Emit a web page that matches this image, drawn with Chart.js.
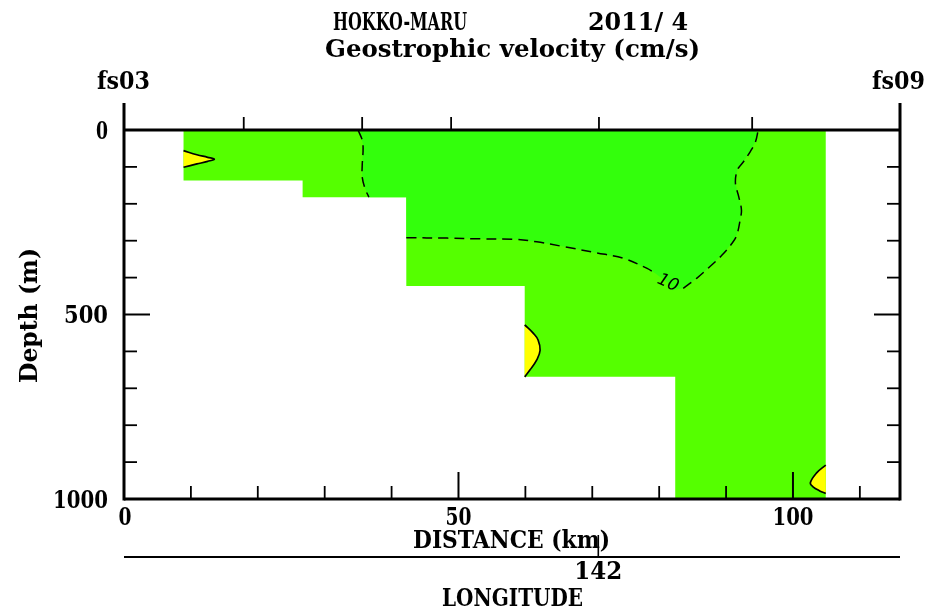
<!DOCTYPE html>
<html>
<head>
<meta charset="utf-8">
<script src="https://cdn.jsdelivr.net/npm/chart.js@4.4.1/dist/chart.umd.min.js"></script>
<style>
  html, body { margin: 0; padding: 0; background: #ffffff; }
  #wrap { width: 930px; height: 610px; }
</style>
</head>
<body>
<div id="wrap"><canvas id="c" width="930" height="610"></canvas></div>
<script>
// ---- Section geometry -------------------------------------------------
// CTD stations along the line, distance in km from fs03
const stationNames = ['fs03', 'fs04', 'fs05', 'fs06', 'fs07', 'fs08', 'fs09'];
const stationKm    = [0, 17.9, 35.6, 48.9, 71.0, 93.9, 116.0];

// Geostrophic velocity columns (between station pairs): edges in km, bottom depth in m
const columnEdgeKm  = [8.9, 26.7, 42.2, 59.9, 82.4, 104.9];
const columnBottomM = [137, 182, 423, 669, 1000];

// ---- Contours (cm/s) --------------------------------------------------
// 10 cm/s contour, western branch (surface down to the step)
const c10WestKm = [35.0, 35.7, 35.6, 35.6, 36.0, 36.6];
const c10WestM  = [0, 35, 100, 127, 157, 182];
// 10 cm/s contour, eastern branch (from the step edge back up to the surface)
const c10EastKm = [42.2, 48.3, 53.2, 58.2, 61.7, 65.7, 70.7, 74.7, 78.2, 79.4, 81.4, 82.0,
                   83.6, 85.6, 87.6, 89.4, 90.9, 91.6, 92.1, 92.3, 91.9, 91.4, 91.7, 92.6, 93.6, 94.4, 94.8];
const c10EastM  = [292, 293, 295, 296, 303, 316, 333, 348, 375, 388, 415, 434,
                   429, 402, 370, 339, 307, 285, 244, 217, 181, 144, 108, 86, 59, 32, 0];
// points of the eastern branch hidden under the contour label
const c10LabelSkip = [10, 11];
const c10Label = '10';
const c10LabelKm = 81.3;
const c10LabelM  = 415;

// 0 cm/s contours enclosing the small negative patches
const negWestKm = [8.9, 10.9, 12.5, 13.5, 12.5, 10.9, 8.9];
const negWestM  = [56, 67, 74, 79, 85, 92, 101];
const negMidKm  = [59.9, 61.2, 61.9, 62.2, 61.7, 60.7, 59.9];
const negMidM   = [528, 551, 569, 597, 623, 650, 669];
const negEastKm = [104.9, 103.5, 102.6, 103.0, 104.0, 104.9];
const negEastM  = [908, 930, 956, 967, 978, 985];

// ---- Axis ticks -------------------------------------------------------
const distanceLabels = [0, 50, 100];
const distanceMinor  = [10, 20, 30, 40, 60, 70, 80, 90, 110];
const depthLabels    = [0, 500, 1000];
const depthMinor     = [100, 200, 300, 400, 600, 700, 800, 900];
const lonTickLabels  = ['142'];
const lonTickKm      = [70.9];

// ---- Build datasets ---------------------------------------------------
function pts(xs, ys) { return xs.map((x, i) => ({ x: x, y: ys[i] })); }

const sectionPts = [{ x: columnEdgeKm[0], y: 0 }];
columnBottomM.forEach((d, i) => {
  sectionPts.push({ x: columnEdgeKm[i], y: d });
  sectionPts.push({ x: columnEdgeKm[i + 1], y: d });
});
sectionPts.push({ x: columnEdgeKm[columnEdgeKm.length - 1], y: 0 });

// region faster than 10 cm/s: west contour, step corner, east contour, closed along the surface
const fastPts = pts(c10WestKm, c10WestM)
  .concat([{ x: columnEdgeKm[2], y: columnBottomM[1] }])
  .concat(pts(c10EastKm, c10EastM));

const c10Line = pts(c10WestKm, c10WestM).concat([{ x: null, y: null }]);
pts(c10EastKm, c10EastM).forEach((p, i) => {
  if (c10LabelSkip.includes(i)) {
    if (i === c10LabelSkip[0]) c10Line.push({ x: null, y: null });
  } else {
    c10Line.push(p);
  }
});

const GREEN = '#55ff00';
const FAST_GREEN = '#33ff0c';
const YELLOW = '#ffff00';

function areaSet(data, color, order) {
  return { data: data, fill: 'shape', backgroundColor: color, borderWidth: 0,
           borderColor: 'rgba(0,0,0,0)', pointRadius: 0, tension: 0, order: order };
}
function patchSet(data) {
  return { data: data, fill: 'shape', backgroundColor: YELLOW, borderColor: '#000000',
           borderWidth: 1.7, pointRadius: 0, tension: 0.4, order: 5 };
}

// ---- Axes, ticks and texts drawn on the chart scales --------------------
const FONT = '"DejaVu Serif"';
const FS = 25;
function fitText(ctx, txt, x, y, w, size, align) {
  ctx.save();
  ctx.font = 'bold ' + size + 'px ' + FONT;
  const s = w / ctx.measureText(txt).width;
  const left = align === 'center' ? x - w / 2 : (align === 'right' ? x - w : x);
  ctx.textAlign = 'left';
  ctx.textBaseline = 'alphabetic';
  ctx.fillStyle = '#000000';
  ctx.translate(left, y);
  ctx.scale(s, 1);
  ctx.fillText(txt, 0, 0);
  ctx.restore();
}
function seg(ctx, x1, y1, x2, y2, w) {
  ctx.lineWidth = w;
  ctx.beginPath();
  ctx.moveTo(x1, y1);
  ctx.lineTo(x2, y2);
  ctx.stroke();
}

const sectionFrame = {
  id: 'sectionFrame',
  afterDatasetsDraw(chart) {
    const ctx = chart.ctx;
    const xs = chart.scales.x, ys = chart.scales.y;
    const a = chart.chartArea;
    ctx.save();
    ctx.strokeStyle = '#000000';
    ctx.lineCap = 'butt';

    // contour label
    ctx.save();
    ctx.translate(xs.getPixelForValue(c10LabelKm), ys.getPixelForValue(c10LabelM));
    ctx.rotate(24 * Math.PI / 180);
    ctx.font = 'italic 17px "DejaVu Sans"';
    ctx.textAlign = 'center';
    ctx.textBaseline = 'middle';
    ctx.fillStyle = '#000000';
    ctx.fillText(c10Label, 0, 0);
    ctx.restore();

    // frame
    seg(ctx, a.left, a.top, a.right, a.top, 3);
    seg(ctx, a.left, a.bottom, a.right, a.bottom, 3);
    seg(ctx, a.left, a.top - 27, a.left, a.bottom + 1.5, 3);
    seg(ctx, a.right, a.top - 27, a.right, a.bottom + 1.5, 3);

    // station ticks on top
    stationKm.slice(1, -1).forEach(k => {
      const px = xs.getPixelForValue(k);
      seg(ctx, px, a.top, px, a.top - 13, 1.8);
    });
    // distance ticks
    distanceMinor.forEach(k => {
      const px = xs.getPixelForValue(k);
      seg(ctx, px, a.bottom, px, a.bottom - 13, 1.8);
    });
    distanceLabels.forEach(k => {
      const px = xs.getPixelForValue(k);
      if (k > 0) seg(ctx, px, a.bottom, px, a.bottom - 27, 2);
    });
    // depth ticks on both sides
    depthMinor.forEach(d => {
      const py = ys.getPixelForValue(d);
      seg(ctx, a.left, py, a.left + 13, py, 1.8);
      seg(ctx, a.right, py, a.right - 13, py, 1.8);
    });
    depthLabels.forEach(d => {
      if (d === 0 || d === 1000) return;
      const py = ys.getPixelForValue(d);
      seg(ctx, a.left, py, a.left + 26, py, 2);
      seg(ctx, a.right, py, a.right - 26, py, 2);
    });

    // titles
    fitText(ctx, 'HOKKO-MARU', 333, 30, 134, FS, 'left');
    fitText(ctx, '2011/ 4', 588, 30, 100, FS, 'left');
    fitText(ctx, 'Geostrophic velocity (cm/s)', 325, 57, 375, FS, 'left');

    // station names at both ends
    fitText(ctx, stationNames[0], xs.getPixelForValue(stationKm[0]) - 27, 89, 53, FS, 'left');
    fitText(ctx, stationNames[stationNames.length - 1],
            xs.getPixelForValue(stationKm[stationKm.length - 1]) - 28, 89, 53, FS, 'left');

    // depth labels
    const depthW = { 0: 12, 500: 44, 1000: 55 };
    depthLabels.forEach(d => {
      fitText(ctx, String(d), a.left - 16, ys.getPixelForValue(d) + 8.5, depthW[d], FS, 'right');
    });
    // distance labels
    const distW = { 0: 13, 50: 26, 100: 41 };
    distanceLabels.forEach(k => {
      fitText(ctx, String(k), xs.getPixelForValue(k) + (k === 0 ? 1 : 0), a.bottom + 26, distW[k], FS, 'center');
    });
    fitText(ctx, 'DISTANCE (km)', 413, 548, 197, FS, 'left');

    // longitude axis
    const lonY = 557;
    seg(ctx, a.left, lonY, a.right, lonY, 2);
    lonTickKm.forEach((k, i) => {
      const px = xs.getPixelForValue(k);
      seg(ctx, px, lonY, px, lonY - 22, 1.6);
      fitText(ctx, lonTickLabels[i], px, 579, 48, FS, 'center');
    });
    fitText(ctx, 'LONGITUDE', 442, 606, 141, FS, 'left');

    // depth axis title
    ctx.save();
    ctx.translate(37, 383);
    ctx.rotate(-Math.PI / 2);
    fitText(ctx, 'Depth (m)', 0, 0, 135, FS, 'left');
    ctx.restore();

    ctx.restore();
  }
};

new Chart(document.getElementById('c'), {
  type: 'line',
  data: {
    datasets: [
      areaSet(sectionPts, GREEN, 10),
      areaSet(fastPts, FAST_GREEN, 9),
      patchSet(pts(negWestKm, negWestM)),
      patchSet(pts(negMidKm, negMidM)),
      patchSet(pts(negEastKm, negEastM)),
      { data: c10Line, fill: false, borderColor: '#000000', borderWidth: 1.5,
        borderDash: [10, 6], pointRadius: 0, tension: 0.35, spanGaps: false, order: 1 }
    ]
  },
  options: {
    responsive: false,
    animation: false,
    events: [],
    layout: { padding: { left: 124, top: 130, right: 30, bottom: 111 } },
    plugins: { legend: { display: false }, tooltip: { enabled: false } },
    scales: {
      x: { type: 'linear', min: 0, max: 116, display: false },
      y: { type: 'linear', min: 0, max: 1000, reverse: true, display: false }
    }
  },
  plugins: [sectionFrame]
});
</script>
</body>
</html>
